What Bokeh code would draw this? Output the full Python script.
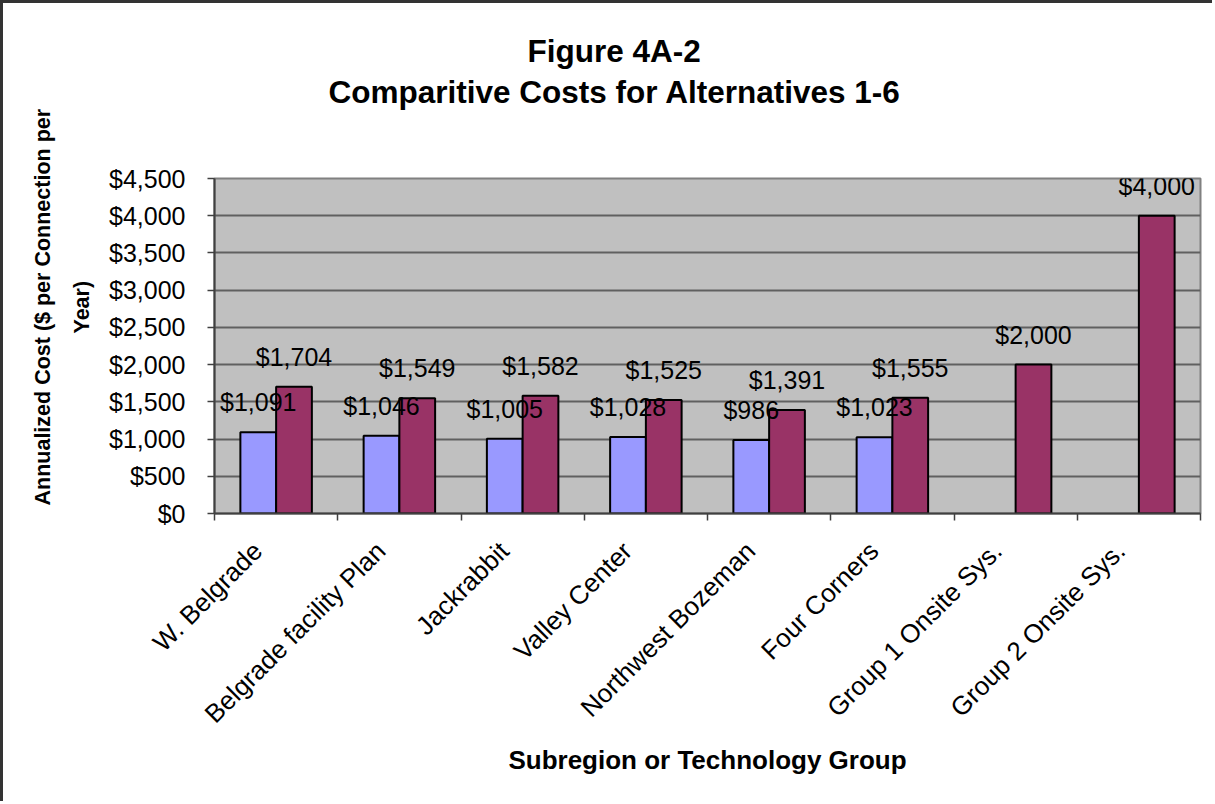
import math
from bokeh.plotting import figure
from bokeh.models import (ColumnDataSource, Range1d, FixedTicker, NumeralTickFormatter, Title)
from bokeh.transform import dodge
from bokeh.core.properties import value
from bokeh.embed import file_html
from bokeh.resources import INLINE

# ---------------- data ----------------
categories = ["W. Belgrade", "Belgrade facility Plan", "Jackrabbit", "Valley Center",
              "Northwest Bozeman", "Four Corners", "Group 1 Onsite Sys.", "Group 2 Onsite Sys."]
series_low = [1091, 1046, 1005, 1028, 986, 1023, None, None]
series_high = [1704, 1549, 1582, 1525, 1391, 1555, 2000, 4000]
y_ticks = [0, 500, 1000, 1500, 2000, 2500, 3000, 3500, 4000, 4500]
title_lines = ["Figure 4A-2", "Comparitive Costs for Alternatives 1-6"]
x_title = "Subregion or Technology Group"
y_title_lines = ["Annualized Cost ($ per Connection per", "Year)"]

FONT = "Liberation Sans"
LOW_COLOR = "#9999FF"
HIGH_COLOR = "#993366"
BAR_W = 0.29
LABEL_SHIFT = -0.15   # rotated category labels sit slightly left of the slot centre


def money(v):
    return "${:,}".format(int(v))


# category slot centres (slot i spans [i, i+1])
centers = [i + 0.5 for i in range(len(categories))]
bounds = list(range(len(categories) + 1))
label_ticks = [c + LABEL_SHIFT for c in centers]

low_pos = [c for c, v in zip(centers, series_low) if v is not None]
low_vals = [v for v in series_low if v is not None]
src_low = ColumnDataSource(dict(pos=low_pos, val=low_vals, lab=[money(v) for v in low_vals]))
src_high = ColumnDataSource(dict(pos=centers, val=series_high, lab=[money(v) for v in series_high]))

p = figure(x_range=Range1d(0, len(categories)), y_range=Range1d(y_ticks[0], y_ticks[-1]),
           width=1212, height=801, output_backend="svg", toolbar_location=None,
           title_location=None,
           min_border_left=211, min_border_right=15, min_border_top=175, min_border_bottom=291,
           background_fill_color="#C0C0C0", border_fill_color="white")
p.styles = {"margin-left": "3px", "margin-top": "3px",
            "box-shadow": "-3px -3px 0px 0px #333333"}
p.outline_line_color = "#808080"
p.outline_line_width = 2

# bars
p.vbar(x=dodge("pos", -BAR_W / 2), top="val", width=BAR_W, source=src_low,
       fill_color=LOW_COLOR, line_color="black", line_width=2)
p.vbar(x=dodge("pos", BAR_W / 2), top="val", width=BAR_W, source=src_high,
       fill_color=HIGH_COLOR, line_color="black", line_width=2)

# value labels
for src, off in ((src_low, -BAR_W / 2), (src_high, BAR_W / 2)):
    p.text(x=dodge("pos", off), y="val", text="lab", source=src,
           text_align="center", text_baseline="alphabetic", y_offset=-30,
           text_font=value(FONT), text_font_size="25px", text_color="black")

# y axis
yax = p.yaxis[0]
yax.ticker = FixedTicker(ticks=y_ticks)
yax.formatter = NumeralTickFormatter(format="$0,0")
yax.major_label_text_font = FONT
yax.major_label_text_font_size = "25px"
yax.major_label_text_color = "black"
yax.major_label_standoff = 22
yax.major_tick_out = 7
yax.major_tick_in = 0
yax.major_tick_line_color = "#404040"
yax.major_tick_line_width = 1.5
yax.minor_tick_line_color = None
yax.axis_line_color = "#404040"
yax.axis_line_width = 2

p.ygrid.ticker = FixedTicker(ticks=y_ticks)
p.ygrid.grid_line_color = "#606060"
p.ygrid.grid_line_width = 2
p.xgrid.grid_line_color = None

# x axis: labels near slot centres, tick marks at slot boundaries (minor ticks)
xax = p.xaxis[0]
xax.ticker = FixedTicker(ticks=label_ticks, minor_ticks=bounds)
xax.major_label_overrides = {t: name for t, name in zip(label_ticks, categories)}
xax.major_label_orientation = math.pi / 4
xax.major_label_text_font = FONT
xax.major_label_text_font_size = "26px"
xax.major_label_text_color = "black"
xax.major_label_standoff = 26
xax.major_tick_line_color = None
xax.major_tick_out = 0
xax.major_tick_in = 0
xax.minor_tick_out = 7
xax.minor_tick_in = 0
xax.minor_tick_line_color = "#404040"
xax.minor_tick_line_width = 1.5
xax.axis_line_color = "#404040"
xax.axis_line_width = 2
xax.axis_label = x_title
xax.axis_label_text_font = FONT
xax.axis_label_text_font_size = "26px"
xax.axis_label_text_font_style = "bold"
xax.axis_label_text_color = "black"
xax.axis_label_standoff = 3

# y axis title as two left-side titles
p.add_layout(Title(text=y_title_lines[1], align="left", offset=180, standoff=26,
                   text_font=FONT, text_font_size="21.5px", text_font_style="bold",
                   text_color="black"), "left")
p.add_layout(Title(text=y_title_lines[0], align="left", offset=8, standoff=0,
                   text_font=FONT, text_font_size="21.5px", text_font_style="bold",
                   text_color="black"), "left")

# chart title (two lines); a blank spacer title keeps it clear of the plot area
p.add_layout(Title(text=" ", text_font_size="10px", standoff=54), "above")
p.add_layout(Title(text=title_lines[1], align="left", offset=114, standoff=4,
                   text_font=FONT, text_font_size="31.5px", text_font_style="bold",
                   text_color="black"), "above")
p.add_layout(Title(text=title_lines[0], align="left", offset=313, standoff=2,
                   text_font=FONT, text_font_size="31.5px", text_font_style="bold",
                   text_color="black"), "above")

open("out.html", "w").write(file_html(p, INLINE))
